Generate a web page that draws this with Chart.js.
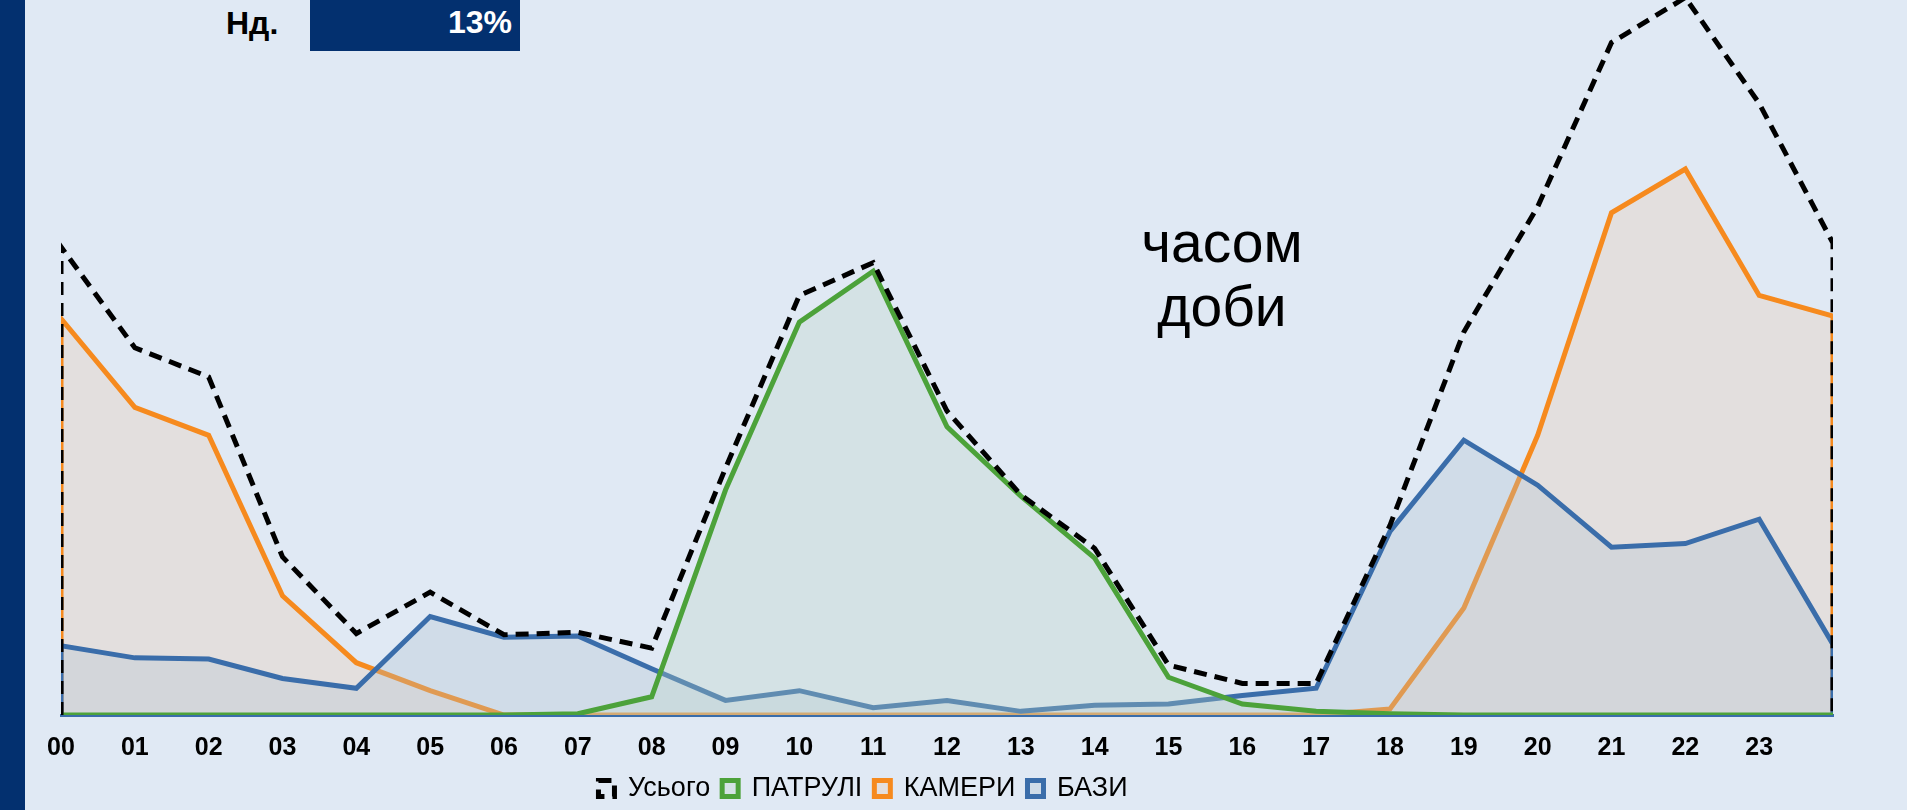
<!DOCTYPE html>
<html>
<head>
<meta charset="utf-8">
<script src="https://cdn.jsdelivr.net/npm/chart.js@4.4.1/dist/chart.umd.min.js"></script>
<style>
  html, body { margin: 0; padding: 0; background: #E0E9F4; }
  body { width: 1907px; height: 810px; position: relative; overflow: hidden; font-family: "Liberation Sans", Arial, sans-serif; }
  #barra { position: absolute; left: 0; top: 0; width: 25px; height: 810px; background: #03306F; }
  #dia { position: absolute; left: 226px; top: 5px; font: bold 32px "Liberation Sans Narrow", "Liberation Sans", Arial, sans-serif; color: #000; }
  #caixa { position: absolute; left: 310px; top: 0; width: 210px; height: 51px; background: #03306F; }
  #pct { position: absolute; right: 8px; top: 4px; font: bold 32px "Liberation Sans Narrow", "Liberation Sans", Arial, sans-serif; color: #fff; }
  #titulo { position: absolute; left: 1122px; top: 210px; width: 200px; text-align: center; font: 57px/64px "Liberation Sans", Arial, sans-serif; color: #000; }
  canvas { position: absolute; left: 0; top: 0; }
</style>
</head>
<body>
<div id="barra"></div>
<div id="dia">Нд.</div>
<div id="caixa"><div id="pct">13%</div></div>
<div id="titulo">часом<br>доби</div>
<canvas id="grafico" width="1907" height="810"></canvas>
<script>
// години доби (останній пункт = повернення до 00)
const horas = ["00","01","02","03","04","05","06","07","08","09","10","11",
               "12","13","14","15","16","17","18","19","20","21","22","23"];

// значення (умовні одиниці)
const usogo   = [385,302,278,130,67,101,66,68,55,203,345,372,250,181,137,41,26,26,156,315,418,553,590,503,388];
const patrulі = [0,0,0,0,0,0,0,1,15,185,323,365,237,180,129,31,9,3,1,0,0,0,0,0,0];
const kamery  = [326,253,230,98,43,20,0,0,0,0,0,0,0,0,0,0,0,0,5,88,230,413,449,345,328];
const bazy    = [57,47,46,30,22,81,64,65,38,12,20,6,12,3,8,9,16,22,151,226,189,138,141,161,58];

// область з вертикальними краями, як в Excel
function area(vals) {
  const pts = vals.map((v, i) => ({ x: i, y: v }));
  return [{ x: 0, y: 0 }, ...pts, { x: vals.length - 1, y: 0 }];
}

// легенда в оригіналі зсунута ліворуч і трохи вниз
const moverLegenda = {
  id: "moverLegenda",
  afterLayout(chart) {
    const lg = chart.legend;
    const dy = 763 - lg.top;
    lg.left -= 84;
    lg.right -= 84;
    lg.top += dy;
    lg.bottom += dy;
  }
};

const ctx = document.getElementById("grafico").getContext("2d");
const grafico = new Chart(ctx, {
  type: "line",
  data: {
    datasets: [
      { label: "Усього", data: area(usogo), borderColor: "#000", borderWidth: 5,
        borderDash: [13, 8], backgroundColor: "transparent", fill: false, order: 0 },
      { label: "ПАТРУЛІ", data: area(patrulі), borderColor: "#4CA23A", borderWidth: 5,
        backgroundColor: "rgba(184,213,194,0.3)", fill: "origin", order: 1 },
      { label: "КАМЕРИ", data: area(kamery), borderColor: "#F68A1E", borderWidth: 5,
        backgroundColor: "rgba(234,203,171,0.3)", fill: "origin", order: 3 },
      { label: "БАЗИ", data: area(bazy), borderColor: "#3A6DAA", borderWidth: 5,
        backgroundColor: "rgba(171,193,204,0.3)", fill: "origin", order: 2 }
    ]
  },
  options: {
    responsive: false,
    animation: false,
    layout: { padding: { left: 61, right: 74, top: 0, bottom: -20 } },
    elements: { point: { radius: 0 }, line: { tension: 0, borderJoinStyle: "miter" } },
    scales: {
      x: {
        type: "linear", min: 0, max: 24,
        grid: { display: false, drawTicks: false },
        border: { display: true, color: "#3A6DAA", width: 3 },
        ticks: {
          stepSize: 1, autoSkip: false, maxRotation: 0, padding: 18,
          color: "#000",
          font: { family: "'Liberation Sans Narrow', 'Liberation Sans', Arial", size: 25, weight: "bold" },
          callback: v => horas[v] ?? ""
        }
      },
      y: { display: false, min: 0, max: 588 }
    },
    plugins: {
      legend: {
        position: "bottom",
        labels: {
          sort: (a, b) => a.datasetIndex - b.datasetIndex,
          boxWidth: 16, boxHeight: 16, padding: 12, color: "#000",
          font: { family: "'Liberation Sans Narrow', 'Liberation Sans', Arial", size: 27 }
        }
      },
      tooltip: { enabled: false }
    }
  },
  plugins: [moverLegenda]
});
</script>
</body>
</html>
